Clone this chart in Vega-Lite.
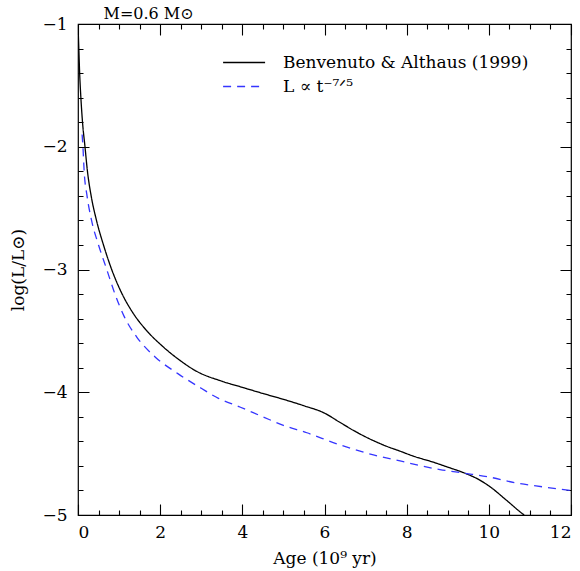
{
  "$schema": "https://vega.github.io/schema/vega-lite/v6.json",
  "width": 493,
  "height": 491,
  "autosize": "none",
  "padding": {"left": 78, "top": 24, "right": 9, "bottom": 56},
  "config": {
    "view": {"stroke": "black", "strokeWidth": 1.2},
    "axis": {"domain": false, "labelColor": "black", "titleColor": "black", "labelFont": "DejaVu Serif", "labelFontSize": 17, "titleFont": "DejaVu Serif", "titleFontSize": 17, "titleFontWeight": "normal"}
  },
  "data": {"values": [
    {"s": "Benvenuto & Althaus (1999)", "t": 0, "y": -1.0},
    {"s": "Benvenuto & Althaus (1999)", "t": 0.02, "y": -1.2},
    {"s": "Benvenuto & Althaus (1999)", "t": 0.04, "y": -1.4},
    {"s": "Benvenuto & Althaus (1999)", "t": 0.07, "y": -1.6},
    {"s": "Benvenuto & Althaus (1999)", "t": 0.11, "y": -1.8},
    {"s": "Benvenuto & Althaus (1999)", "t": 0.17, "y": -2.0},
    {"s": "Benvenuto & Althaus (1999)", "t": 0.23, "y": -2.2},
    {"s": "Benvenuto & Althaus (1999)", "t": 0.32, "y": -2.4},
    {"s": "Benvenuto & Althaus (1999)", "t": 0.45, "y": -2.6},
    {"s": "Benvenuto & Althaus (1999)", "t": 0.62, "y": -2.8},
    {"s": "Benvenuto & Althaus (1999)", "t": 0.82, "y": -3.0},
    {"s": "Benvenuto & Althaus (1999)", "t": 1.06, "y": -3.19},
    {"s": "Benvenuto & Althaus (1999)", "t": 1.35, "y": -3.36},
    {"s": "Benvenuto & Althaus (1999)", "t": 1.65, "y": -3.49},
    {"s": "Benvenuto & Althaus (1999)", "t": 2.04, "y": -3.62},
    {"s": "Benvenuto & Althaus (1999)", "t": 2.44, "y": -3.73},
    {"s": "Benvenuto & Althaus (1999)", "t": 2.89, "y": -3.83},
    {"s": "Benvenuto & Althaus (1999)", "t": 3.5, "y": -3.91},
    {"s": "Benvenuto & Althaus (1999)", "t": 4.0, "y": -3.96},
    {"s": "Benvenuto & Althaus (1999)", "t": 4.5, "y": -4.01},
    {"s": "Benvenuto & Althaus (1999)", "t": 4.92, "y": -4.05},
    {"s": "Benvenuto & Althaus (1999)", "t": 5.5, "y": -4.11},
    {"s": "Benvenuto & Althaus (1999)", "t": 6.0, "y": -4.17},
    {"s": "Benvenuto & Althaus (1999)", "t": 6.35, "y": -4.24},
    {"s": "Benvenuto & Althaus (1999)", "t": 6.7, "y": -4.31},
    {"s": "Benvenuto & Althaus (1999)", "t": 7.1, "y": -4.38},
    {"s": "Benvenuto & Althaus (1999)", "t": 7.51, "y": -4.44},
    {"s": "Benvenuto & Althaus (1999)", "t": 7.84, "y": -4.48},
    {"s": "Benvenuto & Althaus (1999)", "t": 8.16, "y": -4.52},
    {"s": "Benvenuto & Althaus (1999)", "t": 8.65, "y": -4.57},
    {"s": "Benvenuto & Althaus (1999)", "t": 9.0, "y": -4.61},
    {"s": "Benvenuto & Althaus (1999)", "t": 9.42, "y": -4.66},
    {"s": "Benvenuto & Althaus (1999)", "t": 9.75, "y": -4.71},
    {"s": "Benvenuto & Althaus (1999)", "t": 10.03, "y": -4.77},
    {"s": "Benvenuto & Althaus (1999)", "t": 10.43, "y": -4.88},
    {"s": "Benvenuto & Althaus (1999)", "t": 10.82, "y": -4.99},
    {"s": "Benvenuto & Althaus (1999)", "t": 10.86, "y": -5.0},
    {"s": "L ∝ t⁻⁷ᐟ⁵", "t": 0.1, "y": -1.9},
    {"s": "L ∝ t⁻⁷ᐟ⁵", "t": 0.12, "y": -2.0},
    {"s": "L ∝ t⁻⁷ᐟ⁵", "t": 0.15, "y": -2.2},
    {"s": "L ∝ t⁻⁷ᐟ⁵", "t": 0.22, "y": -2.4},
    {"s": "L ∝ t⁻⁷ᐟ⁵", "t": 0.33, "y": -2.6},
    {"s": "L ∝ t⁻⁷ᐟ⁵", "t": 0.5, "y": -2.8},
    {"s": "L ∝ t⁻⁷ᐟ⁵", "t": 0.7, "y": -3.0},
    {"s": "L ∝ t⁻⁷ᐟ⁵", "t": 0.9, "y": -3.2},
    {"s": "L ∝ t⁻⁷ᐟ⁵", "t": 1.12, "y": -3.38},
    {"s": "L ∝ t⁻⁷ᐟ⁵", "t": 1.43, "y": -3.55},
    {"s": "L ∝ t⁻⁷ᐟ⁵", "t": 1.87, "y": -3.71},
    {"s": "L ∝ t⁻⁷ᐟ⁵", "t": 2.44, "y": -3.85},
    {"s": "L ∝ t⁻⁷ᐟ⁵", "t": 3.01, "y": -3.97},
    {"s": "L ∝ t⁻⁷ᐟ⁵", "t": 3.42, "y": -4.05},
    {"s": "L ∝ t⁻⁷ᐟ⁵", "t": 3.94, "y": -4.12},
    {"s": "L ∝ t⁻⁷ᐟ⁵", "t": 4.5, "y": -4.2},
    {"s": "L ∝ t⁻⁷ᐟ⁵", "t": 5.0, "y": -4.27},
    {"s": "L ∝ t⁻⁷ᐟ⁵", "t": 5.57, "y": -4.33},
    {"s": "L ∝ t⁻⁷ᐟ⁵", "t": 6.3, "y": -4.42},
    {"s": "L ∝ t⁻⁷ᐟ⁵", "t": 7.19, "y": -4.51},
    {"s": "L ∝ t⁻⁷ᐟ⁵", "t": 7.84, "y": -4.56},
    {"s": "L ∝ t⁻⁷ᐟ⁵", "t": 8.81, "y": -4.63},
    {"s": "L ∝ t⁻⁷ᐟ⁵", "t": 9.42, "y": -4.66},
    {"s": "L ∝ t⁻⁷ᐟ⁵", "t": 10.0, "y": -4.69},
    {"s": "L ∝ t⁻⁷ᐟ⁵", "t": 10.68, "y": -4.74},
    {"s": "L ∝ t⁻⁷ᐟ⁵", "t": 11.3, "y": -4.77},
    {"s": "L ∝ t⁻⁷ᐟ⁵", "t": 12.0, "y": -4.8}
  ]},
  "layer": [
    {
      "mark": {"type": "line", "strokeWidth": 1.3, "clip": true, "interpolate": "monotone"},
      "encoding": {
        "x": {"field": "t", "type": "quantitative", "scale": {"domain": [0, 12], "nice": false, "zero": false},
              "axis": {"orient": "bottom", "values": [0, 2, 4, 6, 8, 10, 12], "ticks": false, "labelPadding": 9, "title": "Age (10⁹ yr)", "titlePadding": 10,
                       "grid": true, "gridColor": "black", "gridOpacity": 1, "gridWidth": 1.1, "gridDash": [11, 469, 11, 2000]}},
        "y": {"field": "y", "type": "quantitative", "scale": {"domain": [-5, -1], "nice": false, "zero": false},
              "axis": {"orient": "left", "values": [-5, -4, -3, -2, -1], "ticks": false, "labelPadding": 11, "title": "log(L/L⊙)", "titlePadding": 14,
                       "grid": true, "gridColor": "black", "gridOpacity": 1, "gridWidth": 1.1, "gridDash": [11, 471, 11, 2000]}},
        "color": {"field": "s", "type": "nominal", "scale": {"domain": ["Benvenuto & Althaus (1999)", "L ∝ t⁻⁷ᐟ⁵"], "range": ["black", "#3535ff"]},
                  "legend": {"orient": "none", "legendX": 144, "legendY": 29, "title": null, "padding": 0, "symbolType": "M-1,0H4", "symbolSize": 282, "symbolStrokeWidth": 1.3, "labelOffset": 42, "labelFont": "DejaVu Serif", "labelFontSize": 17, "labelLimit": 400, "labelColor": "black", "rowPadding": 6}},
        "strokeDash": {"field": "s", "type": "nominal", "scale": {"domain": ["Benvenuto & Althaus (1999)", "L ∝ t⁻⁷ᐟ⁵"], "range": [[1, 0], [8, 6]]}, "legend": null}
      }
    },
    {
      "mark": {"type": "point", "opacity": 0},
      "encoding": {
        "x": {"field": "t", "type": "quantitative", "axis": {"orient": "top", "values": [0.5, 1, 1.5, 2.5, 3, 3.5, 4.5, 5, 5.5, 6.5, 7, 7.5, 8.5, 9, 9.5, 10.5, 11, 11.5], "ticks": false, "labels": false,
              "grid": true, "gridColor": "black", "gridOpacity": 1, "gridWidth": 1.1, "gridDash": [5, 481, 5, 2000],
              "title": "M=0.6 M⊙", "titleAnchor": "start", "titleAlign": "left", "titleBaseline": "alphabetic", "titleX": 25, "titleY": -6, "titleFontSize": 16}},
        "y": {"field": "y", "type": "quantitative", "axis": {"orient": "right", "values": [-4.8, -4.6, -4.4, -4.2, -3.8, -3.6, -3.4, -3.2, -2.8, -2.6, -2.4, -2.2, -1.8, -1.6, -1.4, -1.2], "ticks": false, "labels": false, "title": null,
              "grid": true, "gridColor": "black", "gridOpacity": 1, "gridWidth": 1.1, "gridDash": [5, 483, 5, 2000]}}
      }
    }
  ],
  "resolve": {"axis": {"x": "independent", "y": "independent"}}
}
